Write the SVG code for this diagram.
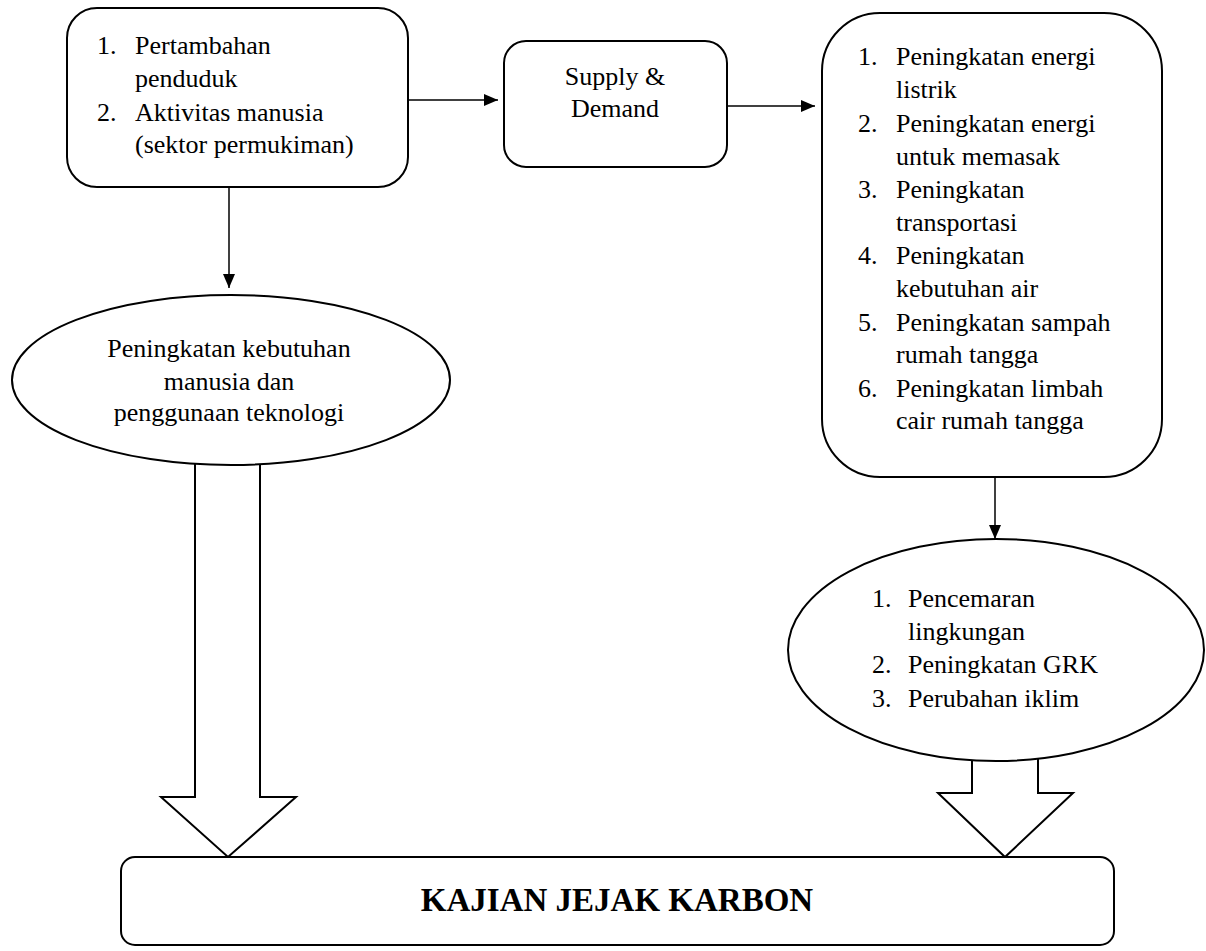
<svg xmlns="http://www.w3.org/2000/svg" width="1206" height="951" viewBox="0 0 1206 951">
<style>
.shape{fill:#fff;stroke:#000;stroke-width:2}
.t{font-family:"Liberation Serif","Times New Roman",serif;font-size:26px;fill:#000}
.c{text-anchor:middle}
.b{font-weight:bold;font-size:33px}
.conn{stroke:#000;stroke-width:1.5;fill:none}
.block{fill:#fff;stroke:#000;stroke-width:2}
</style>
<defs>
<marker id="ah" viewBox="0 0 14 12" refX="14" refY="6" markerWidth="14" markerHeight="12" markerUnits="userSpaceOnUse" orient="auto">
<path d="M0,0 L14,6 L0,12 Z" fill="#000"/>
</marker>
</defs>
<rect width="1206" height="951" fill="#fff"/>
<g id="connectors">
<line class="conn" x1="408" y1="100" x2="498" y2="100" marker-end="url(#ah)"/>
<line class="conn" x1="727" y1="106" x2="815" y2="106" marker-end="url(#ah)"/>
<line class="conn" x1="229" y1="187" x2="229" y2="288" marker-end="url(#ah)"/>
<line class="conn" x1="995" y1="477" x2="995" y2="539" marker-end="url(#ah)"/>
<polygon class="block" points="195,440 195,797 161,797 228,857 296,797 260,797 260,440"/>
<polygon class="block" points="972,730 972,793 938,793 1005,857 1073,793 1038,793 1038,730"/>
</g>
<g id="node-causes">
<rect class="shape" x="67" y="8" width="341" height="179" rx="30"/>
<text class="t" x="97" y="54">1.</text><text class="t" x="135" y="54">Pertambahan</text>
<text class="t" x="135" y="87">penduduk</text>
<text class="t" x="97" y="121">2.</text><text class="t" x="135" y="121">Aktivitas manusia</text>
<text class="t" x="135" y="153">(sektor permukiman)</text>
</g>
<g id="node-supply">
<rect class="shape" x="504" y="41" width="223" height="126" rx="22"/>
<text class="t c" x="615" y="85">Supply &amp;</text>
<text class="t c" x="615" y="117">Demand</text>
</g>
<g id="node-increase">
<rect class="shape" x="822" y="13" width="340" height="464" rx="58"/>
<text class="t" x="858" y="65">1.</text><text class="t" x="896" y="65">Peningkatan energi</text>
<text class="t" x="896" y="98">listrik</text>
<text class="t" x="858" y="132">2.</text><text class="t" x="896" y="132">Peningkatan energi</text>
<text class="t" x="896" y="165">untuk memasak</text>
<text class="t" x="858" y="198">3.</text><text class="t" x="896" y="198">Peningkatan</text>
<text class="t" x="896" y="231">transportasi</text>
<text class="t" x="858" y="264">4.</text><text class="t" x="896" y="264">Peningkatan</text>
<text class="t" x="896" y="297">kebutuhan air</text>
<text class="t" x="858" y="331">5.</text><text class="t" x="896" y="331">Peningkatan sampah</text>
<text class="t" x="896" y="363">rumah tangga</text>
<text class="t" x="858" y="397">6.</text><text class="t" x="896" y="397">Peningkatan limbah</text>
<text class="t" x="896" y="429">cair rumah tangga</text>
</g>
<g id="node-needs">
<ellipse class="shape" cx="231" cy="380" rx="219" ry="85"/>
<text class="t c" x="229" y="357">Peningkatan kebutuhan</text>
<text class="t c" x="229" y="390">manusia dan</text>
<text class="t c" x="229" y="421">penggunaan teknologi</text>
</g>
<g id="node-impacts">
<ellipse class="shape" cx="996" cy="650" rx="208" ry="111"/>
<text class="t" x="872" y="607">1.</text><text class="t" x="908" y="607">Pencemaran</text>
<text class="t" x="908" y="640">lingkungan</text>
<text class="t" x="872" y="673">2.</text><text class="t" x="908" y="673">Peningkatan GRK</text>
<text class="t" x="872" y="707">3.</text><text class="t" x="908" y="707">Perubahan iklim</text>
</g>
<g id="node-study">
<rect class="shape" x="121" y="857" width="993" height="88" rx="14"/>
<text class="t c b" x="617" y="911">KAJIAN JEJAK KARBON</text>
</g>
</svg>
